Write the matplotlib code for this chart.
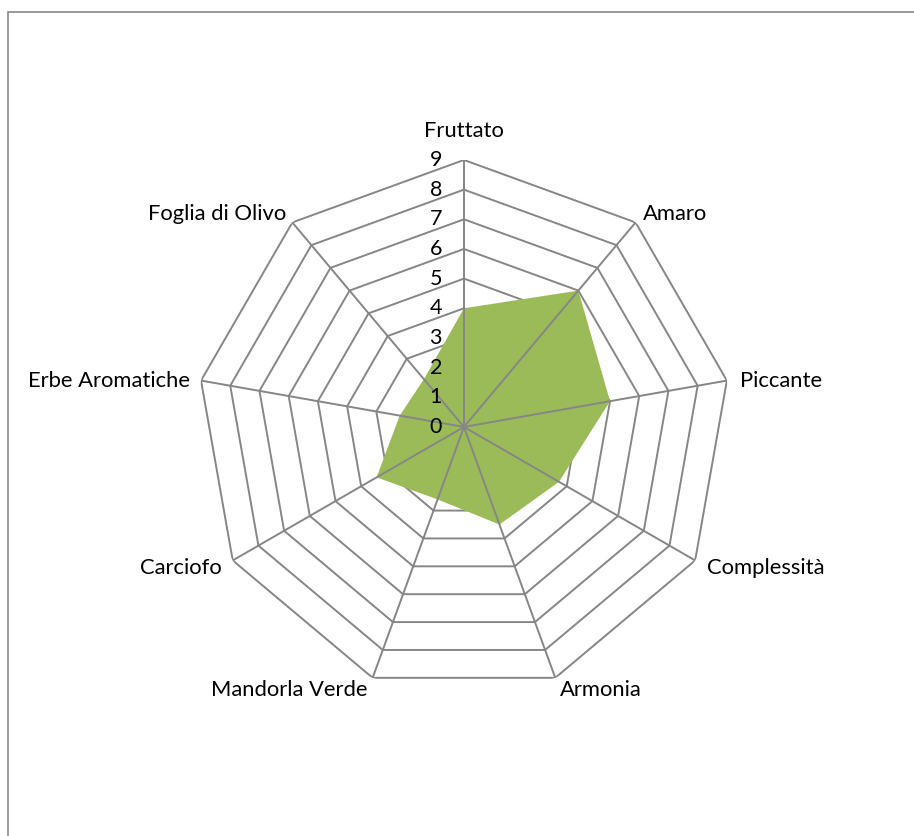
import numpy as np
import matplotlib.pyplot as plt
from matplotlib.patches import Rectangle

plt.rcParams['font.family'] = ['Lato', 'DejaVu Sans']

categories = ['Fruttato', 'Amaro', 'Piccante', 'Complessità', 'Armonia',
              'Mandorla Verde', 'Carciofo', 'Erbe Aromatiche', 'Foglia di Olivo']
values = [4.0, 6.0, 5.0, 3.7, 3.5, 2.6, 3.4, 2.2, 2.1]
levels = [0, 1, 2, 3, 4, 5, 6, 7, 8, 9]

# label offsets in pixels (dx, dy) from the outer vertex
offsets = [(0, 29, 'center'), (7, 8, 'left'), (13, 0, 'left'), (12, -8, 'left'),
           (5, -12, 'left'), (-5, -12, 'right'), (-11, -8, 'right'),
           (-11, 0, 'right'), (-6, 8, 'right')]

green = '#9BBB59'
gray = '#868686'

n = len(categories)
angles = np.linspace(0, 2 * np.pi, n, endpoint=False)
ang_c = np.append(angles, angles[0])
val_c = np.append(values, values[0])

fig = plt.figure(figsize=(9.14, 8.36), dpi=100)
fig.patches.append(Rectangle((8 / 914, -0.05), 1.1, 1 - 12 / 836 + 0.05,
                             transform=fig.transFigure, fill=False,
                             edgecolor='#898989', lw=1.2))

ax = fig.add_axes([0.2155, 0.1699, 0.5842, 0.6388], polar=True)
ax.set_theta_zero_location('N')
ax.set_theta_direction(-1)
ax.set_ylim(0, 9)
ax.grid(False)
ax.spines['polar'].set_visible(False)
ax.set_xticks([])
ax.set_yticks([])
ax.patch.set_alpha(0)

for lv in levels[1:]:
    ax.plot(ang_c, [lv] * (n + 1), color=gray, lw=1.4, zorder=1)

ax.fill(ang_c, val_c, color=green, lw=0, zorder=2)

for a in angles:
    ax.plot([a, a], [0, 9], color=gray, lw=1.4, zorder=3)

for lv in levels:
    ax.annotate(str(lv), (0, lv), xytext=(-22, 0), textcoords='offset pixels',
                ha='right', va='center', fontsize=15.5, color='black')

for a, lab, (dx, dy, ha) in zip(angles, categories, offsets):
    ax.annotate(lab, (a, 9), xytext=(dx, dy), textcoords='offset pixels',
                ha=ha, va='center', fontsize=15.8, color='black',
                annotation_clip=False)

fig.savefig('out.png', dpi=100)
